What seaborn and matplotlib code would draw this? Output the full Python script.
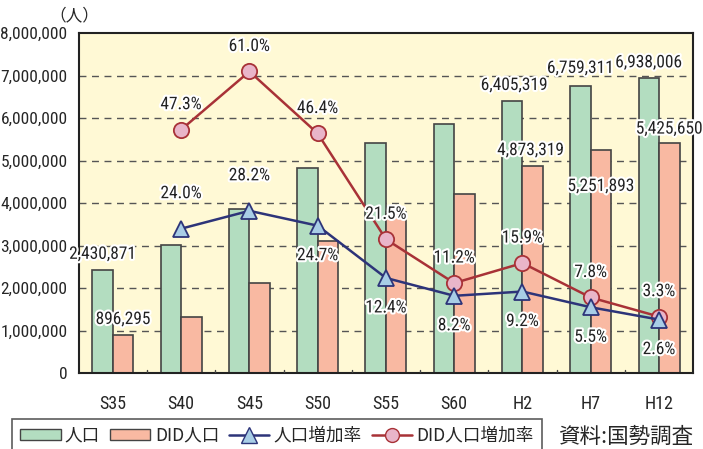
import numpy as np
import pandas as pd
import seaborn as sns
import matplotlib.pyplot as plt
import matplotlib.patheffects as pe
from matplotlib import font_manager
from matplotlib.lines import Line2D
from matplotlib.patches import Patch
from matplotlib.ticker import FuncFormatter

# データ
nendo = ["S35", "S40", "S45", "S50", "S55", "S60", "H2", "H7", "H12"]
jinko = [2430871, 3014983, 3866472, 4821340, 5420480, 5863678, 6405319, 6759311, 6938006]
did_jinko = [896295, 1320000, 2126000, 3112000, 3781000, 4205000, 4873319, 5251893, 5425650]
jinko_rate = [None, 24.0, 28.2, 24.7, 12.4, 8.2, 9.2, 5.5, 2.6]
did_rate = [None, 47.3, 61.0, 46.4, 21.5, 11.2, 15.9, 7.8, 3.3]
rate_labels_jinko = ["", "24.0%", "28.2%", "24.7%", "12.4%", "8.2%", "9.2%", "5.5%", "2.6%"]
rate_labels_did = ["", "47.3%", "61.0%", "46.4%", "21.5%", "11.2%", "15.9%", "7.8%", "3.3%"]
series_names = ["人口", "DID人口"]

sns.set_style("white")
names = {f.name for f in font_manager.fontManager.ttflist}
narrow = "DejaVu Sans"
for cand in ["Roboto Condensed", "Liberation Sans Narrow", "Open Sans Condensed", "Roboto"]:
    if cand in names:
        narrow = cand
        break
plt.rcParams['font.family'] = [narrow, 'Noto Sans CJK JP']
jp = ['Noto Sans CJK JP', narrow]
fs = 11.5 if narrow == "Roboto" else 12.5

c_green = "#b3ddc0"
c_pink = "#f9b9a2"
c_navy = "#2d3479"
c_tri = "#a8cde6"
c_red = "#a83237"
c_circ = "#e9b5c9"
bg = "#fff9d5"

df = pd.DataFrame({"年": nendo * 2,
                   "人数": jinko + did_jinko,
                   "系列": [series_names[0]] * 9 + [series_names[1]] * 9})

fig = plt.figure(figsize=(7.03, 4.49), dpi=100)
ax = fig.add_axes([0.112, 0.169, 0.874, 0.757])
ax.set_facecolor(bg)

sns.barplot(data=df, x="年", y="人数", hue="系列", palette=[c_green, c_pink], saturation=1,
            width=0.6, edgecolor="#444444", linewidth=1.2, ax=ax, legend=False)

ax.set_ylim(0, 8000000)
ax.set_xlim(-0.5, len(nendo) - 0.5)
ax.yaxis.set_major_formatter(FuncFormatter(lambda v, p: f"{int(v):,}"))
ax.set_yticks(np.arange(0, 8000001, 1000000))
ax.set_xlabel("")
ax.set_ylabel("")
ax.tick_params(axis="y", length=0, labelsize=fs, pad=8)
ax.tick_params(axis="x", length=0, labelsize=fs + 0.5, pad=16)
for yv in range(1000000, 8000000, 1000000):
    ax.axhline(yv, color="#555555", lw=1, ls=(0, (5, 4)), zorder=0.5)
ax.set_axisbelow(True)
for b in np.arange(0.5, len(nendo) - 0.5, 1):
    ax.plot([b, b], [0, 80000], color="#444444", lw=1, zorder=3)
for s in ax.spines.values():
    s.set_color("#222222")
    s.set_linewidth(1.5)

halo = [pe.withStroke(linewidth=3, foreground="white")]

# 棒の数値ラベル
bar_labels = [
    (0, jinko[0], -0.15, 8, "2,430,871"),
    (0, did_jinko[0], 0.15, 8, "896,295"),
    (6, jinko[6], -0.12, 8, "6,405,319"),
    (6, did_jinko[6], 0.12, 8, "4,873,319"),
    (7, jinko[7], -0.15, 10, "6,759,311"),
    (7, did_jinko[7], 0.15, -44, "5,251,893"),
    (8, jinko[8], -0.15, 8, "6,938,006"),
    (8, did_jinko[8], 0.15, 6, "5,425,650"),
]
for i, v, dx, dy, t in bar_labels:
    ax.annotate(t, (i + dx, v), xytext=(0, dy), textcoords="offset pixels",
                ha="center", va="bottom", fontsize=fs, color="#222222",
                path_effects=halo, zorder=6)

# 増加率（第2軸）
ax2 = ax.twinx()
ax2.set_ylim(-10, 70)
ax2.set_yticks([])
for s in ax2.spines.values():
    s.set_visible(False)
xs = np.arange(len(nendo))
sns.lineplot(x=xs[1:], y=did_rate[1:], color=c_red, lw=1.8, marker="o", markersize=11,
             markerfacecolor=c_circ, markeredgecolor=c_red, markeredgewidth=1.3, ax=ax2, zorder=4)
sns.lineplot(x=xs[1:], y=jinko_rate[1:], color=c_navy, lw=1.8, marker="^", markersize=12,
             markerfacecolor=c_tri, markeredgecolor=c_navy, markeredgewidth=1.3, ax=ax2, zorder=5)
ax2.set_xlim(-0.5, len(nendo) - 0.5)

for i in range(1, len(nendo)):
    ax2.annotate(rate_labels_did[i], (i, did_rate[i]), xytext=(0, 25), textcoords="offset pixels",
                 ha="center", va="center", fontsize=fs, color="#222222", path_effects=halo, zorder=7)
    off = 35 if i <= 2 else -30
    ax2.annotate(rate_labels_jinko[i], (i, jinko_rate[i]), xytext=(0, off), textcoords="offset pixels",
                 ha="center", va="center", fontsize=fs, color="#222222", path_effects=halo, zorder=7)

fig.text(0.105, 0.965, "（人）", fontsize=12, ha="center", va="center", family=jp)
fig.text(693 / 703, 1 - 437 / 449, "資料:国勢調査", fontsize=15.5, ha="right", va="center", family=jp)

handles = [
    Patch(facecolor=c_green, edgecolor="#444444", label="人口"),
    Patch(facecolor=c_pink, edgecolor="#444444", label="DID人口"),
    Line2D([], [], color=c_navy, lw=1.8, marker="^", markersize=11,
           markerfacecolor=c_tri, markeredgecolor=c_navy, label="人口増加率"),
    Line2D([], [], color=c_red, lw=1.8, marker="o", markersize=10,
           markerfacecolor=c_circ, markeredgecolor=c_red, label="DID人口増加率"),
]
leg = fig.legend(handles=handles, loc="upper left", bbox_to_anchor=(12 / 703, 1 - 419 / 449), ncol=4,
                 prop={"family": jp, "size": 12.7}, frameon=True, fancybox=False, edgecolor="#333333",
                 handlelength=2.3, handleheight=0.6, handletextpad=0.25, columnspacing=0.55,
                 borderpad=0.45, borderaxespad=0)
leg.get_frame().set_linewidth(1.2)

fig.savefig("out.png", dpi=100)
